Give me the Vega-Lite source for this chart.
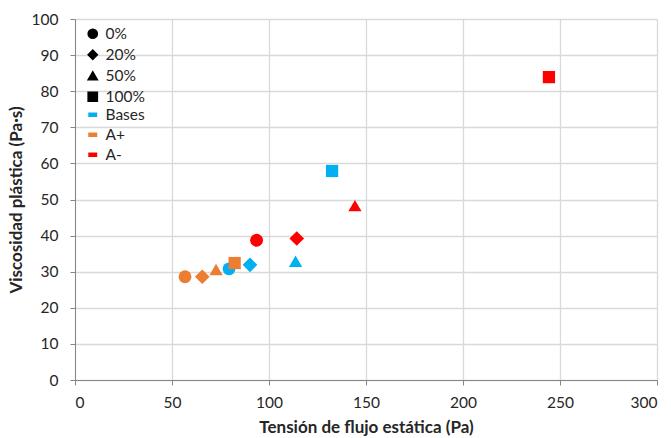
{
  "$schema": "https://vega.github.io/schema/vega-lite/v6.json",
  "width": 582,
  "height": 361,
  "autosize": {"type": "none"},
  "padding": {"left": 75, "top": 19, "right": 14, "bottom": 58},
  "background": "white",
  "config": {
    "font": "Lato",
    "view": {"stroke": null},
    "axis": {
      "labelFont": "Lato",
      "titleFont": "Lato",
      "labelFontSize": 15.5,
      "titleFontSize": 17,
      "labelColor": "#262626",
      "titleColor": "#262626",
      "gridColor": "#d9d9d9",
      "gridWidth": 1.3,
      "domainColor": "#868686",
      "tickColor": "#868686",
      "tickSize": 5
    }
  },
  "data": {
    "values": [
      {"tension": 56.7, "visc": 28.6, "grupo": "A+", "pct": "0%"},
      {"tension": 65.6, "visc": 28.6, "grupo": "A+", "pct": "20%"},
      {"tension": 72.7, "visc": 30.6, "grupo": "A+", "pct": "50%"},
      {"tension": 82.3, "visc": 32.4, "grupo": "A+", "pct": "100%"},
      {"tension": 79.4, "visc": 30.8, "grupo": "Bases", "pct": "0%"},
      {"tension": 90.2, "visc": 31.9, "grupo": "Bases", "pct": "20%"},
      {"tension": 113.7, "visc": 32.9, "grupo": "Bases", "pct": "50%"},
      {"tension": 132.5, "visc": 57.9, "grupo": "Bases", "pct": "100%"},
      {"tension": 93.6, "visc": 38.7, "grupo": "A-", "pct": "0%"},
      {"tension": 114.3, "visc": 39.2, "grupo": "A-", "pct": "20%"},
      {"tension": 144.3, "visc": 48.3, "grupo": "A-", "pct": "50%"},
      {"tension": 244.3, "visc": 83.9, "grupo": "A-", "pct": "100%"}
    ]
  },
  "encoding": {
    "x": {
      "field": "tension", "type": "quantitative",
      "scale": {"domain": [0, 300], "nice": false},
      "axis": {"values": [0, 50, 100, 150, 200, 250, 300], "title": "Tensión de flujo estática (Pa)", "titleFontWeight": "bold", "titlePadding": 9, "labelPadding": 10}
    },
    "y": {
      "field": "visc", "type": "quantitative",
      "scale": {"domain": [0, 100], "nice": false},
      "axis": {"values": [0, 10, 20, 30, 40, 50, 60, 70, 80, 90, 100], "title": "Viscosidad plástica (Pa·s)", "titleFontWeight": "bold", "titlePadding": 6, "labelPadding": 12}
    },
    "shape": {
      "field": "pct", "type": "nominal",
      "scale": {"domain": ["0%", "20%", "50%", "100%"], "range": ["circle", "diamond", "triangle-up", "square"]},
      "legend": {
        "title": null, "orient": "none", "legendX": 10, "legendY": 7,
        "symbolFillColor": "black", "symbolStrokeColor": "black", "symbolSize": 85,
        "labelFont": "Lato", "labelFontSize": 15.5, "labelColor": "#262626", "rowPadding": 4, "labelOffset": 5
      }
    },
    "color": {
      "field": "grupo", "type": "nominal",
      "scale": {"domain": ["Bases", "A+", "A-"], "range": ["#00B0F0", "#ED7D31", "#FF0000"]},
      "legend": {
        "title": null, "orient": "none", "legendX": 10, "legendY": 88,
        "symbolType": "M-1,-0.5H1V0.5H-1Z", "symbolSize": 80, "symbolStrokeWidth": 0,
        "labelFont": "Lato", "labelFontSize": 15.5, "labelColor": "#262626", "rowPadding": 3, "labelOffset": 5
      }
    }
  },
  "layer": [
    {"transform": [{"filter": "datum.pct == '0%'"}], "mark": {"type": "point", "filled": true, "opacity": 1, "size": 165}},
    {"transform": [{"filter": "datum.pct == '20%'"}], "mark": {"type": "point", "filled": true, "opacity": 1, "size": 215}},
    {"transform": [{"filter": "datum.pct == '50%'"}], "mark": {"type": "point", "filled": true, "opacity": 1, "size": 175}},
    {"transform": [{"filter": "datum.pct == '100%'"}], "mark": {"type": "point", "filled": true, "opacity": 1, "size": 150}}
  ]
}
